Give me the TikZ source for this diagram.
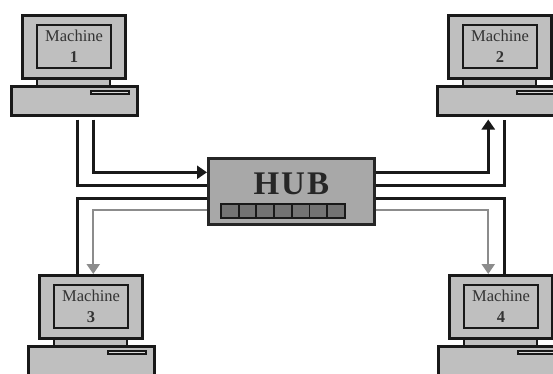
\documentclass[tikz,border=0pt]{standalone}
\usepackage{fontspec}
\setmainfont{Liberation Serif}
\usetikzlibrary{arrows.meta,positioning}
\definecolor{casegray}{gray}{0.75}
\definecolor{hubgray}{gray}{0.66}
\definecolor{ledgray}{gray}{0.45}
\definecolor{wiregray}{gray}{0.55}
\tikzset{
	casebox/.style={rectangle, draw=black!90, fill=casegray, line width=2.5pt, inner sep=0pt, anchor=north west},
	screenbox/.style={rectangle, draw=black!90, fill=casegray, line width=2.2pt, inner sep=0pt, anchor=north west, align=center, font=\fontsize{16.5}{21}\selectfont, text=black!80},
	neckbox/.style={rectangle, draw=black!90, fill=casegray, line width=1.8pt, inner sep=0pt, anchor=north west},
	slotbox/.style={rectangle, draw=black!90, fill=casegray!60, line width=1.6pt, inner sep=0pt, anchor=north west},
	hubbox/.style={rectangle, draw=black!85, fill=hubgray, line width=2.6pt, inner sep=0pt, anchor=north west},
	ledbox/.style={rectangle, draw=black!90, fill=ledgray, line width=1.8pt, inner sep=0pt, anchor=north west},
	wire/.style={draw=black!90, line width=2.6pt},
	graywire/.style={draw=wiregray, line width=2.3pt},
	tip/.style={-{Triangle[length=10pt,width=13pt]}}
}
% #1 name, #2,#3 top left corner of the monitor, #4 number
\newcommand{\machine}[4]{%
	\node[casebox, minimum width=126pt, minimum height=29pt] (#1base) at (#2-11,#3+71) {};
	\node[slotbox, minimum width=38pt, minimum height=3pt] (#1slot) at (#2+69,#3+76) {};
	\node[neckbox, minimum width=73pt, minimum height=8pt] (#1neck) at (#2+15,#3+63) {};
	\node[casebox, minimum width=103pt, minimum height=63pt] (#1mon) at (#2,#3) {};
	\node[screenbox, minimum width=74pt, minimum height=43pt] (#1scr) at (#2+15,#3+10) {Machine\\\textbf{#4}};
}

\begin{document}
\begin{tikzpicture}[x=1pt,y=-1pt]
	\useasboundingbox (0,0) rectangle (553,373);
	\clip (0,0) rectangle (553,373);

	\machine{m1}{21}{14}{1}
	\machine{m2}{447}{14}{2}
	\machine{m3}{38}{274}{3}
	\machine{m4}{448}{274}{4}

	\node[hubbox, minimum width=166pt, minimum height=66pt] (hub) at (207,157) {};
	\node[font=\fontsize{33}{33}\selectfont\bfseries, text=black!85, inner sep=0pt] (hubname) at ([yshift=7pt]hub.center) {H\hspace{2pt}U\hspace{2pt}B};
	\foreach \i in {0,...,6}
		\node[ledbox, minimum width=17.7pt, minimum height=14pt] (led\i) at (220+\i*17.71,203) {};

	% left side
	\draw[wire] ([xshift=3pt,yshift=-3pt]m1base.south) |- ([yshift=6pt]hub.west);
	\draw[wire,tip] ([xshift=19pt,yshift=-3pt]m1base.south) |- ([yshift=19pt]hub.west);
	\draw[wire] ([yshift=-7pt]hub.west) -| ([xshift=-13.5pt]m3mon.north);
	\draw[graywire,tip] ([yshift=-19pt]hub.west) -| ([xshift=2.5pt]m3mon.north);

	% right side
	\draw[wire,tip] ([yshift=19pt]hub.east) -| ([xshift=-12pt,yshift=-3pt]m2base.south);
	\draw[wire] ([yshift=6pt]hub.east) -| ([xshift=4pt,yshift=-3pt]m2base.south);
	\draw[wire] ([yshift=-7pt]hub.east) -| ([xshift=3.5pt]m4mon.north);
	\draw[graywire,tip] ([yshift=-19pt]hub.east) -| ([xshift=-12.5pt]m4mon.north);
\end{tikzpicture}
\end{document}
